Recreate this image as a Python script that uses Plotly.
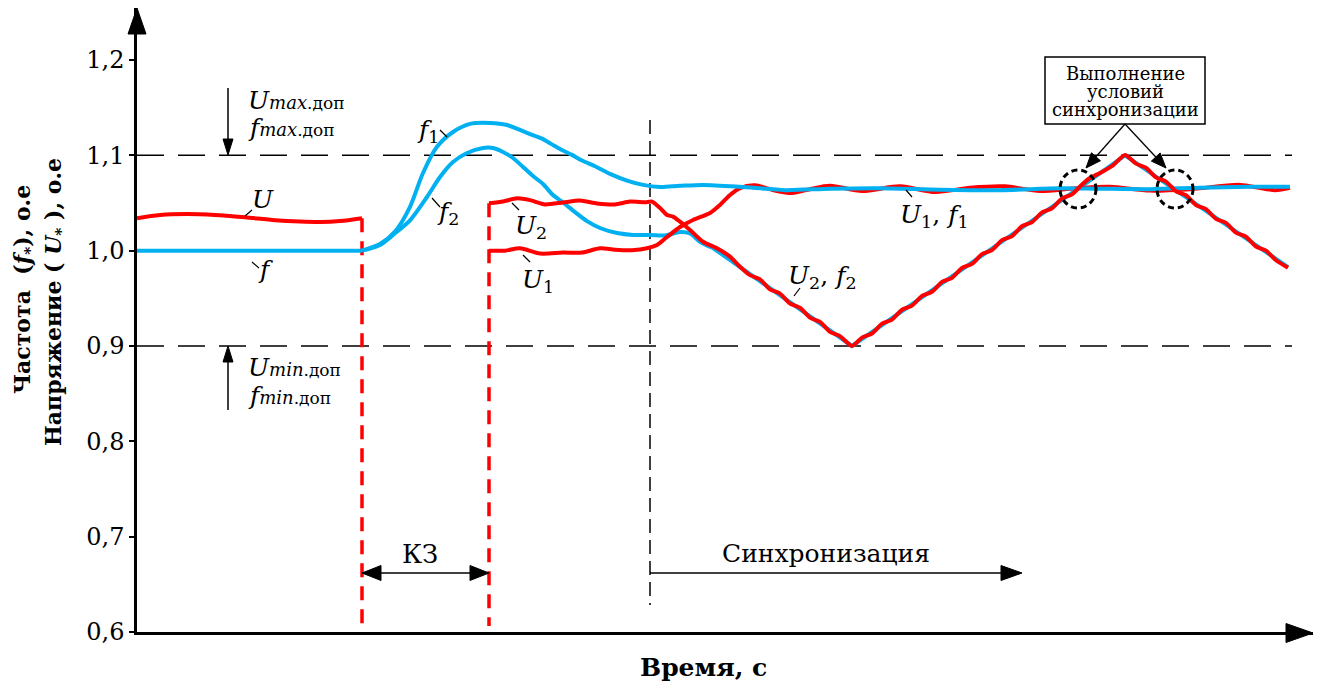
import plotly.graph_objects as go

# ---------------- data (time in arbitrary units, no tick labels on original) ----------------
t_fault = 362
t_clear = 489
t_sync = 650
t_limit_end = 1292

U_max_dop = 1.1
U_min_dop = 0.9

# pre-fault
t_pre_U = [137, 160, 187, 215, 245, 275, 300, 320, 340, 362]
U_pre = [1.034, 1.0375, 1.0385, 1.0375, 1.035, 1.032, 1.0305, 1.030, 1.031, 1.034]
t_pre_f = [137, 362]
f_pre = [1.0, 1.0]

# f1 (generator 1 frequency)
t_f1 = [362, 380, 395, 410, 423, 437, 453, 470, 490, 507, 520, 532, 542, 552, 562, 572, 582,
        595, 610, 627, 643, 660, 680, 703, 740, 785, 830, 880, 940, 1000, 1060, 1100, 1150, 1200,
        1250, 1290]
f1 = [1.0, 1.007, 1.02, 1.046, 1.0815, 1.109, 1.1245, 1.133, 1.134, 1.1318, 1.1266, 1.1215,
      1.1175, 1.1115, 1.1055, 1.1005, 1.0945, 1.0885, 1.0805, 1.0735, 1.069, 1.0668, 1.068, 1.069,
      1.067, 1.0635, 1.065, 1.0655, 1.064, 1.0635, 1.0655, 1.065, 1.0645, 1.066, 1.067, 1.067]

# f2 transient part
t_f2a = [362, 380, 393, 410, 427, 440, 453, 467, 483, 493, 503, 513, 523, 533, 543, 553, 563, 575,
         587, 600, 617, 633, 650, 665, 680, 690, 700, 713]
f2a = [1.0, 1.006, 1.0165, 1.0318, 1.0563, 1.0773, 1.093, 1.1025, 1.1077, 1.1077, 1.1035, 1.0972,
       1.0878, 1.0783, 1.0699, 1.0583, 1.0505, 1.0405, 1.031, 1.0238, 1.0185, 1.0165, 1.0165,
       1.016, 1.0195, 1.018, 1.0094, 1.0028]
# f2 synchronisation ramp
t_f2b = [713, 852, 1090, 1100, 1125, 1288]
f2b = [1.0028, 0.9, 1.0738, 1.0811, 1.1, 0.9827]

# U1
t_U1 = [489, 505, 520, 540, 563, 582, 600, 615, 632, 647, 657, 667, 680, 693, 710, 720, 730, 740,
        755, 775, 792, 810, 830, 862, 900, 935, 970, 1005, 1040, 1075, 1110, 1150, 1190, 1240,
        1275, 1290]
U1 = [1.0, 1.0, 1.0025, 0.997, 0.998, 0.998, 1.0025, 1.001, 1.0005, 1.0025, 1.006, 1.0143,
      1.0248, 1.0322, 1.0395, 1.048, 1.0584, 1.0657, 1.0685, 1.063, 1.0605, 1.0645, 1.068,
      1.0625, 1.0675, 1.0615, 1.066, 1.0675, 1.0625, 1.0655, 1.067, 1.063, 1.0645, 1.069,
      1.0635, 1.066]

# U2
t_U2 = [489, 503, 517, 530, 545, 563, 580, 597, 615, 630, 645, 652, 660, 667, 673, 680, 690, 703,
        717, 730, 740, 750, 760, 770, 780, 790, 800, 810, 820, 830, 840, 852,
        862, 872, 882, 892, 902, 912, 922, 932, 942, 952, 962, 972, 982, 992, 1002, 1012, 1022,
        1032, 1042, 1052, 1062, 1072, 1082, 1090, 1100, 1113, 1125,
        1136, 1146, 1156, 1166, 1176, 1186, 1196, 1206, 1216, 1226, 1236, 1246, 1256, 1266,
        1276, 1288]
U2 = [1.0497, 1.0515, 1.0549, 1.053, 1.0485, 1.0505, 1.0525, 1.0495, 1.0485, 1.0515, 1.0508,
      1.0514, 1.0448, 1.0374, 1.0357, 1.0304, 1.0217, 1.0094, 1.0025, 0.9937, 0.9832,
      0.9743, 0.9699, 0.9594, 0.9550, 0.9446, 0.9401, 0.9297, 0.9253, 0.9148, 0.9104, 0.9000,
      0.9088, 0.9131, 0.9234, 0.9277, 0.9380, 0.9423, 0.9526, 0.9569, 0.9672, 0.9715, 0.9818,
      0.9861, 0.9964, 1.0007, 1.0110, 1.0153, 1.0256, 1.0299, 1.0402, 1.0445, 1.0548, 1.0591,
      1.0694, 1.0762, 1.0815, 1.0895, 1.1004,
      1.0913, 1.0870, 1.0768, 1.0725, 1.0623, 1.0581, 1.0478, 1.0436, 1.0333, 1.0291, 1.0189,
      1.0146, 1.0044, 1.0001, 0.9899, 0.9820]

y_ticks = [0.6, 0.7, 0.8, 0.9, 1.0, 1.1, 1.2]
y_tick_text = ["0,6", "0,7", "0,8", "0,9", "1,0", "1,1", "1,2"]

# ---------------- styling ----------------
RED = "#ff0000"
BLUE = "#00b0f0"
FONT = "DejaVu Serif"
LW = 4

L, B, PW, PH = 137, 632, 1176, 624
Y_TOP = 0.6 + (B - 8) / 953.33


def px(x):
    return (x - L) / PW


def py(y):
    return (B - y) / PH


def yv(y):
    return 0.6 + (B - y) / 953.33


fig = go.Figure()


def add_line(t, v, color, shape="spline", dash=None, width=LW, smoothing=0.8):
    fig.add_trace(go.Scatter(x=t, y=v, mode="lines", hoverinfo="skip", showlegend=False,
                             line=dict(color=color, width=width, shape=shape,
                                       smoothing=smoothing if shape == "spline" else None,
                                       dash=dash)))


# limit lines
add_line([L, t_limit_end], [U_max_dop, U_max_dop], "black", "linear", "27px,14px", 1.5)
add_line([L, t_limit_end], [U_min_dop, U_min_dop], "black", "linear", "27px,14px", 1.5)
# sync start marker
add_line([t_sync, t_sync], [yv(120), yv(605)], "black", "linear", "14px,7px", 1.5)
# fault lines
add_line([t_fault, t_fault], [U_pre[-1], 0.6], RED, "linear", "14px,9px", 3.5)
add_line([t_clear, t_clear], [U2[0], yv(626)], RED, "linear", "14px,9px", 3.5)

add_line(t_pre_f, f_pre, BLUE, "linear")
add_line(t_pre_U, U_pre, RED)
add_line(t_f2a, f2a, BLUE)
add_line(t_f2b, f2b, BLUE, "linear")
add_line(t_U1, U1, RED)
add_line(t_f1, f1, BLUE)
add_line(t_U2, U2, RED, smoothing=0.6)

shapes = []


def tri(tip, base_c, hw):
    (x1, y1), (bx, by) = tip, base_c
    dx, dy = x1 - bx, y1 - by
    n = (dx * dx + dy * dy) ** 0.5
    ux, uy = dx / n, dy / n
    pxp, pyp = -uy, ux
    a = (bx + hw * pxp, by + hw * pyp)
    b = (bx - hw * pxp, by - hw * pyp)
    path = f"M{px(x1)},{py(y1)} L{px(a[0])},{py(a[1])} L{px(b[0])},{py(b[1])} Z"
    shapes.append(dict(type="path", xref="paper", yref="paper", path=path,
                       fillcolor="black", line=dict(color="black", width=1)))


def seg(x0, y0, x1, y1, w=1.5, dash=None):
    shapes.append(dict(type="line", xref="paper", yref="paper", x0=px(x0), y0=py(y0),
                       x1=px(x1), y1=py(y1), line=dict(color="black", width=w, dash=dash)))


def arrow(x0, y0, x1, y1, hl, hw, w=1.5):
    dx, dy = x1 - x0, y1 - y0
    n = (dx * dx + dy * dy) ** 0.5
    bx, by = x1 - hl * dx / n, y1 - hl * dy / n
    seg(x0, y0, bx, by, w)
    tri((x1, y1), (bx, by), hw)


# axis arrows
tri((137, 8), (137, 34), 9)
tri((1313, 633), (1286, 633), 9.5)
# limit arrows
arrow(228, 88, 228, 155, 16, 5)
arrow(228, 410, 228, 346, 16, 5)
# KZ double arrow
seg(378, 573, 473, 573, 1.5)
tri((362, 573), (381, 573), 7.5)
tri((489, 573), (470, 573), 7.5)
# sync arrow
arrow(650, 573, 1022, 573, 21, 7.5)
# box and arrows
shapes.append(dict(type="rect", xref="paper", yref="paper", x0=px(1045), x1=px(1205),
                   y0=py(124), y1=py(57), line=dict(color="black", width=1.5), fillcolor="white"))
arrow(1125, 124, 1086, 168, 15, 6, 1.3)
arrow(1125, 124, 1166, 168, 15, 6, 1.3)
# dotted circles
for cx in (1078, 1175):
    shapes.append(dict(type="circle", xref="paper", yref="paper", x0=px(cx - 18), x1=px(cx + 18),
                       y0=py(208), y1=py(170), line=dict(color="black", width=3, dash="6px,4px")))
# leader lines
for (a, b, c, d) in [(245, 216, 252, 210), (252, 262, 259, 268), (440, 130, 447, 137),
                     (432, 198, 440, 207), (512, 203, 519, 210), (523, 255, 530, 262),
                     (794, 296, 800, 288), (906, 190, 912, 197)]:
    seg(a, b, c, d, 1.2)

anns = []


def ann(text, x, y, size, xanchor="center", angle=0):
    anns.append(dict(text=text, x=px(x), y=py(y), xref="paper", yref="paper", showarrow=False,
                     xanchor=xanchor, yanchor="middle", textangle=angle,
                     font=dict(family=FONT, size=size, color="black")))


ann("<i>U</i>", 263, 199, 25)
ann("<i>f</i>", 265, 270, 25)
ann("<i>f</i><sub>1</sub>", 428, 131, 25)
ann("<i>f</i><sub>2</sub>", 448, 213, 25)
ann("<i>U</i><sub>2</sub>", 531, 227, 25)
ann("<i>U</i><sub>1</sub>", 538, 281, 25)
ann("<i>U</i><sub>2</sub>, <i>f</i><sub>2</sub>", 822, 277, 25)
ann("<i>U</i><sub>1</sub>, <i>f</i><sub>1</sub>", 934, 216, 25)

sm = "<span style='font-size:18px'><i>{}</i></span><span style='font-size:17px'>.доп</span>"
ann("<i>U</i>" + sm.format("max"), 246, 100, 25, "left")
ann("<i>f</i>" + sm.format("max"), 246, 128, 25, "left")
ann("<i>U</i>" + sm.format("min"), 246, 367, 25, "left")
ann("<i>f</i>" + sm.format("min"), 246, 395, 25, "left")

ann("КЗ", 420, 554, 26)
ann("Синхронизация", 826, 553, 25)

ann("Выполнение", 1125, 74, 18)
ann("условий", 1125, 92, 18)
ann("синхронизации", 1125, 110, 18)

ann("<b>Время, с</b>", 703, 667, 25)
ann("<b>Частота  (<i>f</i><sub>*</sub>), о.е</b>", 24, 290, 22, angle=-90)
ann("<b>Напряжение ( <i>U</i><sub>*</sub> ), о.е</b>", 55, 302, 22, angle=-90)

fig.update_layout(
    width=1323, height=686,
    margin=dict(l=L, r=1323 - L - PW, t=8, b=686 - B),
    paper_bgcolor="white", plot_bgcolor="white",
    showlegend=False,
    font=dict(family=FONT, size=24, color="black"),
    xaxis=dict(range=[L, L + PW], showgrid=False, zeroline=False, showticklabels=False,
               ticks="", showline=True, linecolor="black", linewidth=3, fixedrange=True),
    yaxis=dict(range=[0.6, Y_TOP], showgrid=False, zeroline=False, tickvals=y_ticks,
               ticktext=y_tick_text, ticks="outside", ticklen=5, tickwidth=1.5,
               tickcolor="black", showline=True, linecolor="black", linewidth=2.5,
               tickfont=dict(family=FONT, size=24, color="black"), fixedrange=True),
    shapes=shapes,
    annotations=anns,
)

fig.write_html("out.html")
